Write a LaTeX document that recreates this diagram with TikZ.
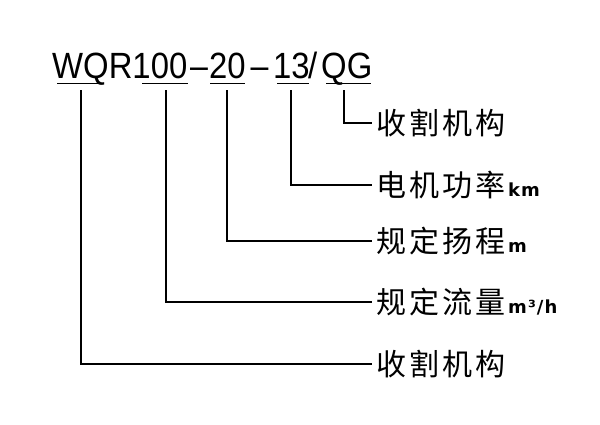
\documentclass[tikz,border=0pt]{standalone}
\usepackage{fontspec}
\setmainfont{Liberation Sans}
\newfontfamily\cjkfont{Noto Sans CJK SC}[LetterSpace=10]
\newfontfamily\unitfont{DejaVu Sans Bold}[LetterSpace=6]
\newcommand{\unitsz}{\hspace{3pt}\unitfont\fontsize{18}{18}\selectfont}
\newcommand{\tpart}[1]{\scalebox{0.9}[1]{#1}}
\newcommand{\tdash}{\scalebox{0.88}[1]{–}}
\begin{document}
\begin{tikzpicture}[x=1pt,y=-1pt,
  wire/.style={line width=1.7pt,black},
  uline/.style={line width=1.6pt,black},
  tpiece/.style={anchor=base west,inner sep=0pt,font=\fontsize{36.5}{37}\selectfont},
  lab/.style={anchor=west,inner xsep=4pt,inner ysep=0pt,font=\cjkfont\fontsize{30}{30}\selectfont}]
\useasboundingbox[fill=white] (0,0) rectangle (600,424);
% title pieces
\node[tpiece] (tWQR) at (52,78) {\tpart{WQR100}};
\node[tpiece] (td1) at (190,78) {\tdash};
\node[tpiece] (t20) at (209,78) {\tpart{20}};
\node[tpiece] (td2) at (250.5,78) {\tdash};
\node[tpiece] (t13) at (273,78) {\tpart{13}};
\node[tpiece] (tsl) at (308,78) {\tpart{/}};
\node[tpiece] (tQG) at (321,78) {\tpart{QG}};
% underlines
\draw[uline] (57,83.5) -- (104,83.5);
\draw[uline] (142,83.5) -- (188,83.5);
\draw[uline] (210,83.5) -- (245,83.5);
\draw[uline] (277,83.5) -- (309,83.5);
\draw[uline] (326,83.5) -- (371,83.5);
% start coordinates
\coordinate (cQG) at (344,90);
\coordinate (c13) at (291,90);
\coordinate (c20) at (227,90);
\coordinate (c100) at (166,90);
\coordinate (cWQ) at (81,90);
% labels
\node[lab] (l1) at (372,123) {收割机构};
\node[lab] (l2) at (372,185) {电机功率{\unitsz km}};
\node[lab] (l3) at (372,241) {规定扬程{\unitsz m}};
\node[lab] (l4) at (372,302) {规定流量{\unitsz m³/h}};
\node[lab] (l5) at (372,364) {收割机构};
% connectors
\draw[wire] (cQG) |- (l1.west);
\draw[wire] (c13) |- (l2.west);
\draw[wire] (c20) |- (l3.west);
\draw[wire] (c100) |- (l4.west);
\draw[wire] (cWQ) |- (l5.west);
\end{tikzpicture}
\end{document}
